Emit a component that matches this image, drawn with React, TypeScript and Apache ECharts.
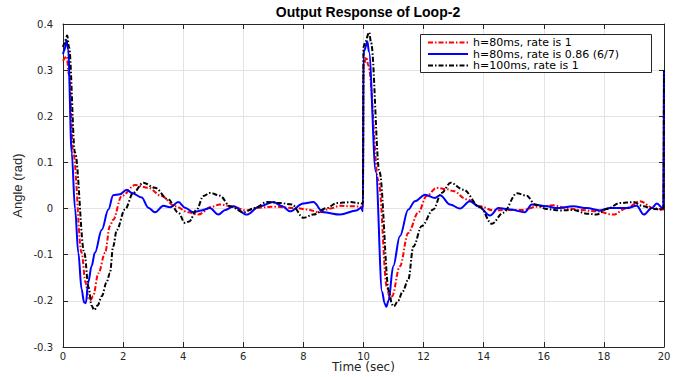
import React, { useEffect, useRef } from "react";
import * as echarts from "echarts";

const seriesNames = [
  "h=80ms, rate is 1",
  "h=80ms, rate is 0.86 (6/7)",
  "h=100ms, rate is 1",
];

const xTicks = { min: 0, max: 20, interval: 2 };
const yTicks = { min: -0.3, max: 0.4, interval: 0.1 };

const redData: [number, number][] = [
  [0, 0.32], [0.12, 0.33], [0.2, 0.29], [0.34, 0.121], [0.62, -0.096], [0.75, -0.16], [0.85, -0.195],
  [0.92, -0.198], [1.0, -0.19], [1.18, -0.14], [1.4, -0.096], [1.56, -0.038], [1.67, -0.024], [1.95, 0.027],
  [2.4, 0.051], [2.84, 0.045], [3.28, 0.027], [3.73, 0.005], [4.17, -0.008], [4.5, -0.013], [4.95, 0.004],
  [5.22, 0.009], [5.6, 0.005], [6.11, -0.004], [6.5, 0.002], [7.0, 0.004], [7.78, 0.001], [8.1, -0.002],
  [8.55, -0.008], [8.9, 0.0], [9.22, 0.006], [9.6, 0.005], [9.98, 0.004],
  [10.0, 0.31], [10.1, 0.328], [10.16, 0.31], [10.5, 0.06], [10.78, -0.17], [10.88, -0.196], [10.95, -0.19],
  [11.21, -0.125], [11.49, -0.053], [11.82, -0.009], [12.1, 0.027], [12.43, 0.045], [12.77, 0.042],
  [12.99, 0.038], [13.43, 0.02], [13.88, 0.005], [14.32, -0.004], [14.76, -0.003], [15.32, -0.003],
  [15.76, 0.004], [16.32, 0.007], [16.76, 0.001], [17.21, -0.003], [17.76, -0.006], [18.31, -0.013],
  [18.76, 0.001], [19.2, 0.016], [19.65, 0.001], [19.98, -0.002], [20, 0.3],
];

const blueData: [number, number][] = [
  [0, 0.335], [0.04, 0.342], [0.12, 0.364], [0.17, 0.345], [0.29, 0.121], [0.4, 0.0], [0.51, -0.096],
  [0.62, -0.175], [0.7, -0.203], [0.76, -0.205], [0.84, -0.16], [0.95, -0.125], [1.06, -0.096],
  [1.29, -0.046], [1.51, -0.002], [1.67, 0.029], [1.89, 0.031], [2.12, 0.041], [2.29, 0.034],
  [2.62, 0.024], [2.84, 0.002], [3.06, -0.008], [3.34, 0.006], [3.56, 0.003], [3.84, 0.014],
  [4.06, 0.002], [4.34, -0.008], [4.6, -0.004], [4.89, 0.001], [5.17, -0.013], [5.4, -0.003],
  [5.67, 0.005], [6.11, -0.013], [6.55, 0.005], [7.0, 0.014], [7.3, 0.005], [7.55, -0.006],
  [8.0, 0.011], [8.33, 0.014], [8.66, -0.008], [9.22, -0.013], [9.77, -0.004], [9.92, 0.002],
  [9.98, -0.006],
  [10.0, 0.33], [10.02, 0.342], [10.13, 0.362], [10.18, 0.34], [10.41, 0.08], [10.62, -0.18],
  [10.7, -0.205], [10.76, -0.213], [10.83, -0.2], [10.99, -0.125], [11.21, -0.06], [11.49, -0.002],
  [11.71, 0.016], [12.05, 0.03], [12.38, 0.023], [12.55, 0.029], [12.88, 0.009], [13.21, 0.0],
  [13.54, 0.016], [13.82, 0.005], [14.21, -0.015], [14.49, 0.001], [14.88, -0.002], [15.37, -0.008],
  [15.6, 0.009], [16.1, 0.005], [16.43, 0.001], [16.98, 0.005], [17.43, 0.001], [17.87, -0.004],
  [18.2, 0.001], [18.76, 0.001], [19.09, 0.006], [19.33, -0.013], [19.59, 0.001], [19.76, 0.011],
  [19.98, 0.0], [20, 0.3],
];

const blackData: [number, number][] = [
  [0, 0.35], [0.04, 0.357], [0.14, 0.375], [0.2, 0.35], [0.4, 0.121], [0.71, -0.096], [0.85, -0.17],
  [0.95, -0.21], [1.04, -0.22], [1.15, -0.21], [1.29, -0.19], [1.45, -0.16], [1.56, -0.14],
  [1.67, -0.082], [1.79, -0.046], [2.06, -0.002], [2.34, 0.034], [2.67, 0.056], [3.06, 0.045],
  [3.5, 0.02], [3.84, -0.009], [4.06, -0.031], [4.2, -0.028], [4.45, -0.002], [4.67, 0.027],
  [4.89, 0.034], [5.22, 0.028], [5.56, 0.005], [6.0, -0.008], [6.39, 0.001], [6.78, 0.014],
  [7.22, 0.012], [7.61, 0.009], [8.0, -0.02], [8.33, -0.013], [8.78, 0.001], [9.11, 0.012],
  [9.55, 0.014], [9.98, 0.011],
  [10.0, 0.35], [10.05, 0.36], [10.19, 0.382], [10.25, 0.36], [10.53, 0.08], [10.85, -0.18],
  [10.95, -0.208], [11.01, -0.212], [11.15, -0.2], [11.3, -0.18], [11.49, -0.154], [11.66, -0.082],
  [11.94, -0.038], [12.32, -0.002], [12.6, 0.034], [12.9, 0.056], [13.32, 0.041], [13.88, 0.003],
  [14.27, -0.033], [14.65, -0.009], [15.1, 0.033], [15.43, 0.028], [15.71, 0.009], [16.1, -0.001],
  [16.54, -0.004], [16.98, -0.003], [17.43, -0.011], [17.76, -0.013], [18.09, -0.001], [18.54, 0.012],
  [18.98, 0.014], [19.31, 0.005], [19.65, -0.001], [19.98, -0.002], [20, 0.3],
];

const SANS = "'Liberation Sans', Arial, Helvetica, sans-serif";
const WIDE = "'DejaVu Sans', Verdana, sans-serif";

export default function App() {
  const ref = useRef<HTMLDivElement>(null);
  useEffect(() => {
    if (!ref.current) return;
    const chart = echarts.init(ref.current, undefined, { renderer: "svg" });
    const fmtY = (v: number) => String(Math.round(v * 10) / 10);
    const axisCommon = {
      axisLine: { show: true, onZero: false, lineStyle: { color: "#262626", width: 1 } },
      axisTick: { show: true, inside: true, length: 5, lineStyle: { color: "#262626" } },
    };
    const mkLine = (name: string, data: [number, number][], color: string, type: any, z: number) => ({
      name,
      type: "line",
      data,
      showSymbol: false,
      symbol: "none",
      smooth: 0.35,
      smoothMonotone: "x",
      z,
      lineStyle: { color, width: 2, type },
      itemStyle: { color },
    });
    chart.setOption({
      animation: false,
      backgroundColor: "#ffffff",
      textStyle: { fontFamily: SANS },
      title: {
        text: "Output Response of Loop-2",
        left: 363,
        textAlign: "center",
        top: 0,
        textStyle: { fontFamily: SANS, fontSize: 14, fontWeight: "bold", color: "#000" },
      },
      graphic: [
        {
          type: "rect",
          left: 420,
          top: 34,
          z: 10,
          shape: { width: 231, height: 38 },
          style: { fill: "#ffffff", stroke: "#262626", lineWidth: 1 },
        },
      ],
      legend: {
        orient: "vertical",
        left: 427,
        top: 37,
        z: 20,
        padding: 0,
        itemGap: 0.5,
        itemWidth: 40,
        itemHeight: 10,
        itemStyle: { color: "rgba(0,0,0,0)", borderWidth: 0, opacity: 0 },
        textStyle: { fontFamily: WIDE, fontSize: 11, color: "#000" },
        data: seriesNames,
      },
      grid: { left: 63, right: 16, top: 24, bottom: 30, containLabel: false, outerBoundsMode: "none" },
      xAxis: [
        {
          type: "value",
          position: "bottom",
          ...xTicks,
          ...axisCommon,
          axisLabel: { fontFamily: WIDE, fontSize: 10, color: "#262626", margin: 4 },
          splitLine: { show: true, lineStyle: { color: "#e3e3e3", width: 1 } },
          name: "Time (sec)",
          nameLocation: "middle",
          nameGap: 14,
          nameMoveOverlap: false,
          nameTextStyle: { fontFamily: WIDE, fontSize: 12, color: "#262626" },
        },
        {
          type: "value",
          position: "top",
          ...xTicks,
          ...axisCommon,
          axisLabel: { show: false },
          splitLine: { show: false },
        },
      ],
      yAxis: [
        {
          type: "value",
          position: "left",
          ...yTicks,
          ...axisCommon,
          axisLabel: { fontFamily: WIDE, fontSize: 10, color: "#262626", margin: 10, formatter: fmtY },
          splitLine: { show: true, lineStyle: { color: "#e3e3e3", width: 1 } },
          name: "Angle (rad)",
          nameLocation: "middle",
          nameGap: 39,
          nameRotate: 90,
          nameMoveOverlap: false,
          nameTextStyle: { fontFamily: SANS, fontSize: 13, color: "#262626" },
        },
        {
          type: "value",
          position: "right",
          ...yTicks,
          ...axisCommon,
          axisLabel: { show: false },
          splitLine: { show: false },
        },
      ],
      series: [
        mkLine(seriesNames[0], redData, "#ff0000", [5, 2, 1.5, 2], 3),
        mkLine(seriesNames[1], blueData, "#0000ff", "solid", 4),
        mkLine(seriesNames[2], blackData, "#000000", [5, 2, 1.5, 2], 5),
      ],
    });
    return () => chart.dispose();
  }, []);
  return <div ref={ref} style={{ position: "absolute", left: 0, top: 0, width: 680, height: 377 }} />;
}
